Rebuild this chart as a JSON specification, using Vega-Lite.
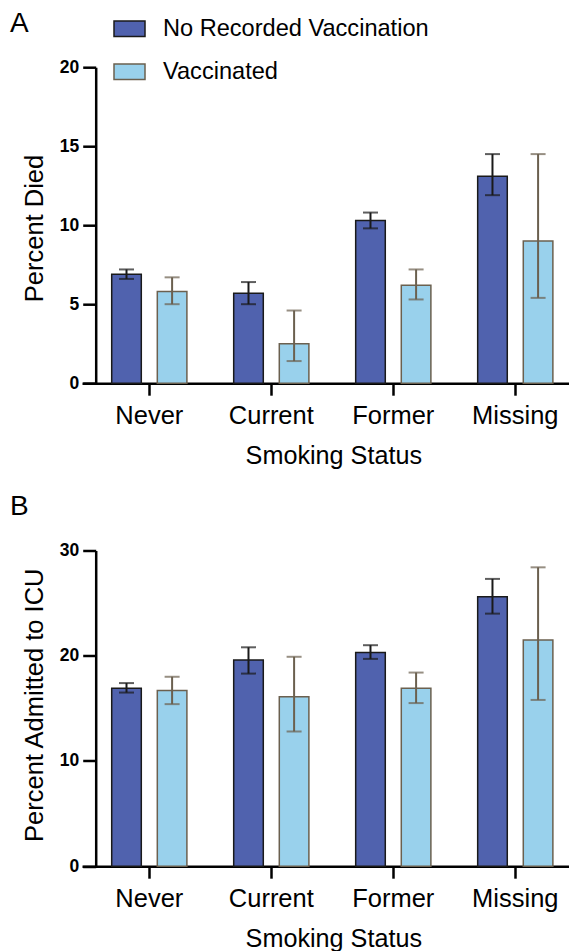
{
  "$schema": "https://vega.github.io/schema/vega-lite/v6.json",
  "autosize": {"type": "pad"},
  "padding": {"left": 10, "top": 10.2, "right": 0, "bottom": 0},
  "bounds": "flush",
  "spacing": 167.3,
  "config": {
    "font": "Liberation Sans",
    "view": {"stroke": null},
    "axis": {"grid": false, "domainColor": "#000000", "tickColor": "#000000", "labelColor": "#000000", "titleColor": "#000000", "domainWidth": 2.5, "tickWidth": 2.5, "titleFontWeight": "normal"},
    "axisX": {"labelAngle": 0, "labelFontSize": 25.5, "labelBaseline": "alphabetic", "tickSize": 12, "labelPadding": 28.3, "titleFontSize": 25.2, "titleBaseline": "alphabetic", "titleX": 251.3, "titleY": 80.6, "titleAlign": "center"},
    "axisY": {"labelFontSize": 17.5, "labelFontWeight": "bold", "tickSize": 13, "labelPadding": 4, "offset": -13.7, "titleFontSize": 25.5, "titleBaseline": "alphabetic", "titleX": -53, "titleAlign": "center"}
  },
  "resolve": {"scale": {"x": "independent", "y": "independent", "xOffset": "independent", "fill": "independent", "stroke": "independent", "color": "independent"}},
  "datasets": {
    "died": [
      {"status": "Never", "group": "No Recorded Vaccination", "value": 6.9, "lo": 6.6, "hi": 7.2},
      {"status": "Never", "group": "Vaccinated", "value": 5.8, "lo": 5.0, "hi": 6.7},
      {"status": "Current", "group": "No Recorded Vaccination", "value": 5.7, "lo": 5.0, "hi": 6.4},
      {"status": "Current", "group": "Vaccinated", "value": 2.5, "lo": 1.4, "hi": 4.6},
      {"status": "Former", "group": "No Recorded Vaccination", "value": 10.3, "lo": 9.8, "hi": 10.8},
      {"status": "Former", "group": "Vaccinated", "value": 6.2, "lo": 5.3, "hi": 7.2},
      {"status": "Missing", "group": "No Recorded Vaccination", "value": 13.1, "lo": 11.9, "hi": 14.5},
      {"status": "Missing", "group": "Vaccinated", "value": 9.0, "lo": 5.4, "hi": 14.5}
    ],
    "icu": [
      {"status": "Never", "group": "No Recorded Vaccination", "value": 16.9, "lo": 16.5, "hi": 17.4},
      {"status": "Never", "group": "Vaccinated", "value": 16.7, "lo": 15.4, "hi": 18.0},
      {"status": "Current", "group": "No Recorded Vaccination", "value": 19.6, "lo": 18.3, "hi": 20.8},
      {"status": "Current", "group": "Vaccinated", "value": 16.1, "lo": 12.8, "hi": 19.9},
      {"status": "Former", "group": "No Recorded Vaccination", "value": 20.3, "lo": 19.7, "hi": 21.0},
      {"status": "Former", "group": "Vaccinated", "value": 16.9, "lo": 15.5, "hi": 18.4},
      {"status": "Missing", "group": "No Recorded Vaccination", "value": 25.6, "lo": 24.0, "hi": 27.3},
      {"status": "Missing", "group": "Vaccinated", "value": 21.5, "lo": 15.8, "hi": 28.4}
    ]
  },
  "vconcat": [
    {
      "width": 487,
      "height": 316,
      "title": {"text": "A", "anchor": "start", "frame": "group", "fontSize": 28, "fontWeight": "normal", "dx": -72, "dy": 48.3, "offset": 0, "baseline": "alphabetic", "color": "#000000"},
      "data": {"name": "died"},
      "encoding": {
        "x": {"field": "status", "type": "nominal", "sort": ["Never", "Current", "Former", "Missing"], "scale": {"paddingInner": 0.2, "paddingOuter": 0.096, "align": 0.79}, "axis": {"title": "Smoking Status"}},
        "xOffset": {"field": "group", "type": "nominal", "sort": ["No Recorded Vaccination", "Vaccinated"], "scale": {"paddingInner": 0.351, "paddingOuter": 0.2455}}
      },
      "layer": [
        {
          "mark": {"type": "bar", "strokeWidth": 1.5},
          "encoding": {
            "y": {"field": "value", "type": "quantitative", "scale": {"domain": [0, 20], "nice": false}, "axis": {"values": [0, 5, 10, 15, 20], "title": "Percent Died", "titleY": 160.8}},
            "fill": {"field": "group", "type": "nominal", "scale": {"domain": ["No Recorded Vaccination", "Vaccinated"], "range": ["#5062ae", "#99d1ec"]},
              "legend": {"orient": "none", "legendX": 31, "legendY": -55, "title": null, "padding": 0, "symbolType": "M-1,-0.5H1V0.5H-1Z", "symbolSize": 961, "symbolStrokeWidth": 1.5, "labelFontSize": 23.6, "labelOffset": 17, "rowPadding": 14, "labelColor": "#000000", "labelLimit": 400}},
            "stroke": {"field": "group", "type": "nominal", "scale": {"domain": ["No Recorded Vaccination", "Vaccinated"], "range": ["#1a1a1a", "#6b604f"]},
              "legend": {"orient": "none", "legendX": 31, "legendY": -55, "title": null, "padding": 0, "symbolType": "M-1,-0.5H1V0.5H-1Z", "symbolSize": 961, "symbolStrokeWidth": 1.5, "labelFontSize": 23.6, "labelOffset": 17, "rowPadding": 14, "labelColor": "#000000", "labelLimit": 400}}
          }
        },
        {
          "mark": {"type": "rule", "strokeWidth": 2},
          "encoding": {
            "y": {"field": "lo", "type": "quantitative"},
            "y2": {"field": "hi"},
            "stroke": {"field": "group", "type": "nominal"}
          }
        },
        {
          "mark": {"type": "tick", "size": 15, "thickness": 2},
          "encoding": {
            "y": {"field": "lo", "type": "quantitative"},
            "color": {"field": "group", "type": "nominal", "scale": {"domain": ["No Recorded Vaccination", "Vaccinated"], "range": ["#1a1a1a", "#6b604f"]}, "legend": null}
          }
        },
        {
          "mark": {"type": "tick", "size": 15, "thickness": 2},
          "encoding": {
            "y": {"field": "hi", "type": "quantitative"},
            "color": {"field": "group", "type": "nominal", "scale": {"domain": ["No Recorded Vaccination", "Vaccinated"], "range": ["#1a1a1a", "#6b604f"]}, "legend": null}
          }
        }
      ]
    },
    {
      "width": 487,
      "height": 315.7,
      "title": {"text": "B", "anchor": "start", "frame": "group", "fontSize": 28, "fontWeight": "normal", "dx": -72, "dy": 2, "offset": 0, "baseline": "alphabetic", "color": "#000000"},
      "data": {"name": "icu"},
      "encoding": {
        "x": {"field": "status", "type": "nominal", "sort": ["Never", "Current", "Former", "Missing"], "scale": {"paddingInner": 0.2, "paddingOuter": 0.096, "align": 0.79}, "axis": {"title": "Smoking Status"}},
        "xOffset": {"field": "group", "type": "nominal", "sort": ["No Recorded Vaccination", "Vaccinated"], "scale": {"paddingInner": 0.351, "paddingOuter": 0.2455}}
      },
      "layer": [
        {
          "mark": {"type": "bar", "strokeWidth": 1.5},
          "encoding": {
            "y": {"field": "value", "type": "quantitative", "scale": {"domain": [0, 30], "nice": false}, "axis": {"values": [0, 10, 20, 30], "title": "Percent Admitted to ICU", "titleY": 154.2}},
            "fill": {"field": "group", "type": "nominal", "scale": {"domain": ["No Recorded Vaccination", "Vaccinated"], "range": ["#5062ae", "#99d1ec"]}, "legend": null},
            "stroke": {"field": "group", "type": "nominal", "scale": {"domain": ["No Recorded Vaccination", "Vaccinated"], "range": ["#1a1a1a", "#6b604f"]}, "legend": null}
          }
        },
        {
          "mark": {"type": "rule", "strokeWidth": 2},
          "encoding": {
            "y": {"field": "lo", "type": "quantitative"},
            "y2": {"field": "hi"},
            "stroke": {"field": "group", "type": "nominal", "legend": null}
          }
        },
        {
          "mark": {"type": "tick", "size": 15, "thickness": 2},
          "encoding": {
            "y": {"field": "lo", "type": "quantitative"},
            "color": {"field": "group", "type": "nominal", "scale": {"domain": ["No Recorded Vaccination", "Vaccinated"], "range": ["#1a1a1a", "#6b604f"]}, "legend": null}
          }
        },
        {
          "mark": {"type": "tick", "size": 15, "thickness": 2},
          "encoding": {
            "y": {"field": "hi", "type": "quantitative"},
            "color": {"field": "group", "type": "nominal", "scale": {"domain": ["No Recorded Vaccination", "Vaccinated"], "range": ["#1a1a1a", "#6b604f"]}, "legend": null}
          }
        }
      ]
    }
  ]
}
